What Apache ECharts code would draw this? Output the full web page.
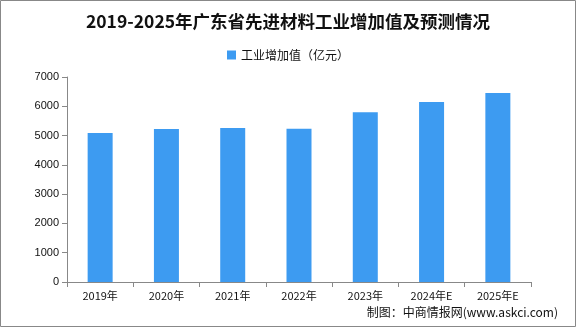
<!DOCTYPE html>
<html><head><meta charset="utf-8">
<script src="https://cdn.jsdelivr.net/npm/echarts@6/dist/echarts.min.js"></script>
<style>html,body{margin:0;padding:0;background:#fff}#c{width:576px;height:327px}</style>
</head><body><div id="c"></div>
<script>
const categories = ['2019年','2020年','2021年','2022年','2023年','2024年E','2025年E'];
const values = [5090, 5225, 5260, 5230, 5800, 6150, 6450];
const seriesName = '工业增加值（亿元）';
const yTicks = {min:0, max:7000, interval:1000};

const chart = echarts.init(document.getElementById('c'));
chart.setOption({
  animation:false,
  title:{text:'2019-2025年广东省先进材料工业增加值及预测情况',left:'center',top:8,
    textStyle:{fontFamily:'Noto Sans CJK SC',fontWeight:'bold',fontSize:17.5,color:'#111'}},
  legend:{top:44,left:'center',itemWidth:9,itemHeight:9,itemGap:4,
    data:[{name:seriesName,icon:'rect'}],
    textStyle:{fontFamily:'Noto Sans CJK SC',fontSize:12,color:'#111'}},
  grid:{left:67,right:45,top:77,bottom:45},
  xAxis:{type:'category',data:categories,
    axisLine:{lineStyle:{color:'#888'}},axisTick:{show:true,lineStyle:{color:'#888'}},
    axisLabel:{color:'#111',fontSize:11,fontFamily:'Noto Sans CJK SC',margin:8}},
  yAxis:{type:'value',min:yTicks.min,max:yTicks.max,interval:yTicks.interval,
    axisLine:{show:true,lineStyle:{color:'#888'}},axisTick:{show:true,lineStyle:{color:'#888'}},
    splitLine:{show:false},
    axisLabel:{color:'#111',fontSize:11,fontFamily:'Liberation Sans',margin:8,formatter:v=>String(v)}},
  series:[{name:seriesName,type:'bar',data:values,barWidth:25,itemStyle:{color:'#3d9bf1'}}],
  graphic:[
    {type:'rect',shape:{x:0.5,y:0.5,width:575,height:326},style:{fill:'none',stroke:'#888',lineWidth:1}},
    {type:'text',right:18,top:306,style:{text:'制图：中商情报网(www.askci.com)',font:'12px "Noto Sans CJK SC"',fill:'#111'}}
  ]
});
</script></body></html>
